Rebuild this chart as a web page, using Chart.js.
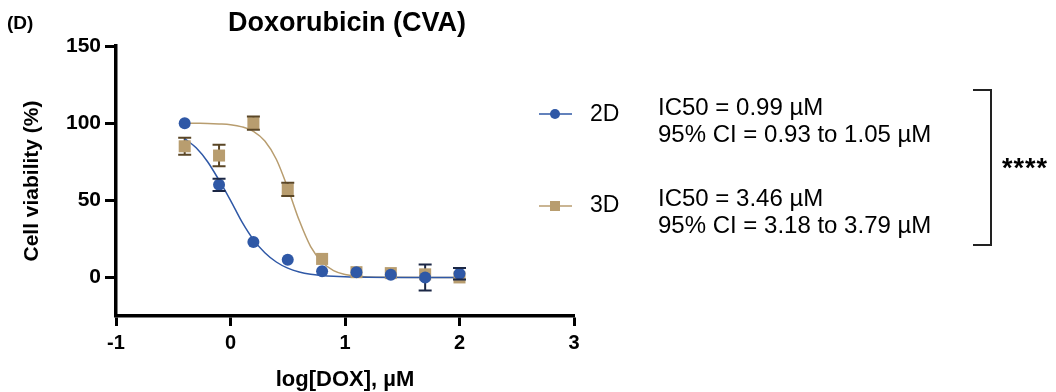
<!DOCTYPE html>
<html>
<head>
<meta charset="utf-8">
<script src="https://cdn.jsdelivr.net/npm/chart.js@4.4.1/dist/chart.umd.min.js"></script>
<style>
  html, body { margin: 0; padding: 0; background: #fff; }
  #wrap { position: relative; width: 1056px; height: 392px; overflow: hidden;
          font-family: "Liberation Sans", Arial, sans-serif; color: #000; }
  #wrap canvas { position: absolute; left: 0; top: 0; }
  .lbl { position: absolute; white-space: nowrap; line-height: 1; }
  #panel { left: 7px; top: 13px; font-size: 19px; font-weight: bold; }
  #title { left: 347px; top: 9px; font-size: 27px; font-weight: bold; transform: translateX(-50%); }
  .leg { font-size: 23px; }
  .ic { font-size: 24px; }
  #stars { left: 1002px; top: 155px; font-size: 27px; font-weight: bold; letter-spacing: 1px; }
  #bracket { position: absolute; left: 973px; top: 89px; width: 17px; height: 153px;
             border: 2px solid #222; border-left: none; }
</style>
</head>
<body>
<div id="wrap">
  <canvas id="dox-chart" width="1056" height="392"></canvas>
  <div class="lbl" id="panel">(D)</div>
  <div class="lbl" id="title">Doxorubicin (CVA)</div>
  <div class="lbl leg" style="left:590px; top:102px;">2D</div>
  <div class="lbl leg" style="left:590px; top:193px;">3D</div>
  <div class="lbl ic" style="left:658px; top:95px;">IC50 = 0.99 µM</div>
  <div class="lbl ic" style="left:658px; top:122px;">95% CI = 0.93 to 1.05 µM</div>
  <div class="lbl ic" style="left:658px; top:186px;">IC50 = 3.46 µM</div>
  <div class="lbl ic" style="left:658px; top:213px;">95% CI = 3.18 to 3.79 µM</div>
  <div id="bracket"></div>
  <div class="lbl" id="stars">****</div>
</div>
<script>
// measured points, log dose
var doseLog = [-0.4, -0.1, 0.2, 0.5, 0.8, 1.1, 1.4, 1.7, 2.0];
var via2D = [100, 60, 23, 11.5, 4, 3.3, 1.7, 0, 2.4];
var err2D = [0, 4, 0, 0, 0, 0, 0, 8.4, 3.7];
var via3D = [85, 79, 100, 57, 12, 3.4, 2.8, 2, 0];
var err3D = [5.5, 7, 4.3, 4.3, 0, 0, 0, 0, 0];

// fitted curves
var fitX  = [-0.4, -0.3, -0.2, -0.1, 0, 0.1, 0.2, 0.3, 0.4, 0.5, 0.6, 0.7, 0.8, 0.9, 1.0, 1.2, 1.4, 1.7, 2.0];
var fit2D = [90, 84, 75, 63, 50, 36, 24.5, 16, 10, 6, 3.5, 2, 1.2, 0.7, 0.4, 0.1, 0, 0, 0];
var fit3D = [100, 99.9, 99.8, 99.5, 99, 97.6, 94.7, 88.4, 76.6, 58, 37, 20, 10, 4.4, 1.9, 0.3, 0.1, 0, 0];

var xTicks = [-1, 0, 1, 2, 3];
var yTicks = [0, 50, 100, 150];

var blue = '#2f58a6';
var tan = '#b89d6f';
var blueBar = '#1b2745';
var tanBar = '#5a4626';

function pts(xs, ys) {
  return xs.map(function (x, i) { return { x: x, y: ys[i] }; });
}

var boldFont = { family: 'Liberation Sans, Arial, sans-serif', weight: 'bold' };

// error bars: stems under the markers, caps on top
function drawBars(chart, caps) {
  var ctx = chart.ctx, xs = chart.scales.x, ys = chart.scales.y;
  var sets = [[via2D, err2D, blueBar], [via3D, err3D, tanBar]];
  ctx.save();
  ctx.lineWidth = 2;
  sets.forEach(function (s) {
    ctx.strokeStyle = s[2];
    doseLog.forEach(function (d, i) {
      if (!s[1][i]) return;
      var px = xs.getPixelForValue(d);
      var hi = ys.getPixelForValue(s[0][i] + s[1][i]);
      var lo = ys.getPixelForValue(s[0][i] - s[1][i]);
      ctx.beginPath();
      if (caps) {
        ctx.moveTo(px - 6.5, hi); ctx.lineTo(px + 6.5, hi);
        ctx.moveTo(px - 6.5, lo); ctx.lineTo(px + 6.5, lo);
      } else {
        ctx.moveTo(px, hi); ctx.lineTo(px, lo);
      }
      ctx.stroke();
    });
  });
  ctx.restore();
}

var errorBars = {
  id: 'errorBars',
  beforeDatasetsDraw: function (chart) { drawBars(chart, false); },
  afterDatasetsDraw: function (chart) { drawBars(chart, true); }
};

// legend keys (line + marker) beside the 2D / 3D labels
var legendKeys = {
  id: 'legendKeys',
  afterDraw: function (chart) {
    var ctx = chart.ctx;
    var keys = [[114, blue, 'circle'], [206, tan, 'rect']];
    ctx.save();
    keys.forEach(function (k) {
      ctx.strokeStyle = k[1];
      ctx.fillStyle = k[1];
      ctx.lineWidth = 1.5;
      ctx.beginPath();
      ctx.moveTo(539, k[0]); ctx.lineTo(572, k[0]);
      ctx.stroke();
      if (k[2] === 'circle') {
        ctx.beginPath();
        ctx.arc(555, k[0], 5, 0, Math.PI * 2);
        ctx.fill();
      } else {
        ctx.fillRect(550, k[0] - 5, 10, 10);
      }
    });
    ctx.restore();
  }
};

var ctx1 = document.getElementById('dox-chart').getContext('2d');

var doxChart = new Chart(ctx1, {
  type: 'scatter',
  data: {
    datasets: [{
      label: '2D',
      data: pts(doseLog, via2D),
      pointStyle: 'circle',
      pointRadius: 6,
      backgroundColor: blue,
      borderColor: blue,
      borderWidth: 0
    }, {
      label: '3D',
      data: pts(doseLog, via3D),
      pointStyle: 'rect',
      pointRadius: 8.5,
      backgroundColor: tan,
      borderColor: tan,
      borderWidth: 0
    }, {
      label: '2D fit',
      data: pts(fitX, fit2D),
      showLine: true,
      pointRadius: 0,
      borderColor: blue,
      borderWidth: 1.5,
      cubicInterpolationMode: 'monotone'
    }, {
      label: '3D fit',
      data: pts(fitX, fit3D),
      showLine: true,
      pointRadius: 0,
      borderColor: tan,
      borderWidth: 1.5,
      cubicInterpolationMode: 'monotone'
    }]
  },
  options: {
    responsive: false,
    animation: false,
    layout: { padding: { left: 0, right: 482, top: 46, bottom: 0 } },
    plugins: {
      legend: { display: false },
      tooltip: { enabled: false }
    },
    scales: {
      x: {
        type: 'linear',
        min: -1,
        max: 3,
        afterBuildTicks: function (a) { a.ticks = xTicks.map(function (v) { return { value: v }; }); },
        afterFit: function (s) { s.height = 76; s.paddingLeft = 0; s.paddingRight = 0; },
        grid: { drawOnChartArea: false, tickLength: 10, tickWidth: 3, color: '#000' },
        border: { color: '#000', width: 3.5 },
        ticks: { color: '#000', padding: 5, font: Object.assign({ size: 20 }, boldFont) },
        title: {
          display: true,
          text: 'log[DOX], µM',
          color: '#000',
          padding: { top: 0, bottom: 1 },
          font: Object.assign({ size: 22, lineHeight: 1 }, boldFont)
        }
      },
      y: {
        type: 'linear',
        min: -25,
        max: 150,
        afterBuildTicks: function (a) { a.ticks = yTicks.map(function (v) { return { value: v }; }); },
        afterFit: function (s) { s.width = 116; s.paddingTop = 0; s.paddingBottom = 0; },
        grid: { drawOnChartArea: false, tickLength: 11, tickWidth: 3, color: '#000' },
        border: { color: '#000', width: 3.5 },
        ticks: { color: '#000', padding: 4, font: Object.assign({ size: 21 }, boldFont) },
        title: {
          display: true,
          text: 'Cell viability (%)',
          color: '#000',
          padding: { top: 22, bottom: 0 },
          font: Object.assign({ size: 21, lineHeight: 1 }, boldFont)
        }
      }
    }
  },
  plugins: [errorBars, legendKeys]
});
</script>
</body>
</html>
